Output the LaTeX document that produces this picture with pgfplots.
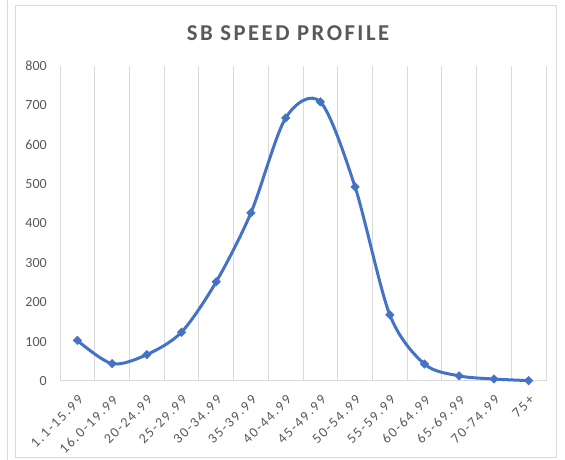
\documentclass[border=0pt]{standalone}
\usepackage{fontspec}
\setmainfont{Carlito}
\newfontfamily\titlefont[LetterSpace=11]{Carlito}
\newfontfamily\xfont[LetterSpace=12]{Carlito}
\usepackage{pgfplots}
\pgfplotsset{compat=1.18}
\definecolor{txt}{HTML}{595959}
\definecolor{grd}{HTML}{D9D9D9}
\definecolor{ln}{HTML}{4472C4}
\pgfplotstableread{
x y
0 103
1 44
2 67
3 124
4 252
5 427
6 668
7 709
8 493
9 168
10 43
11 13
12 5
13 1
}\speed
\begin{document}
\begin{tikzpicture}
\useasboundingbox (0,0) rectangle (423.75pt,345pt);
\draw[grd, line width=0.75pt] (11.25pt,1.5pt) rectangle (417pt,340.5pt);
\draw[grd, line width=0.75pt] (5.25pt,0pt) -- (5.25pt,345pt);
\node[anchor=base, text=txt, inner sep=0pt, font=\titlefont\bfseries\fontsize{17}{20}\selectfont] at (216pt,314.25pt) {SB SPEED PROFILE};
\begin{axis}[
  at={(45pt,59.25pt)}, anchor=south west, scale only axis,
  width=364.5pt, height=236.25pt,
  xmin=-0.5, xmax=13.5, ymin=0, ymax=800,
  ytick={0,100,...,800},
  xtick={0,...,13},
  xticklabels={1.1-15.99,16.0-19.99,20-24.99,25-29.99,30-34.99,35-39.99,40-44.99,45-49.99,50-54.99,55-59.99,60-64.99,65-69.99,70-74.99,75+},
  minor xtick={-0.5,0.5,...,13.5},
  xminorgrids, minor grid style={grd, line width=0.75pt},
  axis line style={draw=none},
  major tick length=0pt, minor tick length=0pt,
  tick style={draw=none},
  /pgf/number format/assume math mode=true,
  yticklabel style={text=txt, font=\fontsize{10.5}{12}\selectfont, inner sep=0pt, anchor=east, xshift=-9.75pt},
  xticklabel style={text=txt, font=\xfont\fontsize{10.5}{12}\selectfont, inner sep=0pt, xshift=2.6pt, yshift=-12.4pt, rotate=45, anchor=east},
  clip=false,
]
\draw[grd, line width=0.75pt] (axis cs:-0.5,0) -- (axis cs:13.5,0);
\addplot[ln, line width=2.25pt, smooth, mark=square*, mark size=2.2pt,
  mark options={solid, rotate=45, line width=0.5pt, fill=ln}] table[x=x,y=y] {\speed};
\end{axis}
\end{tikzpicture}
\end{document}
